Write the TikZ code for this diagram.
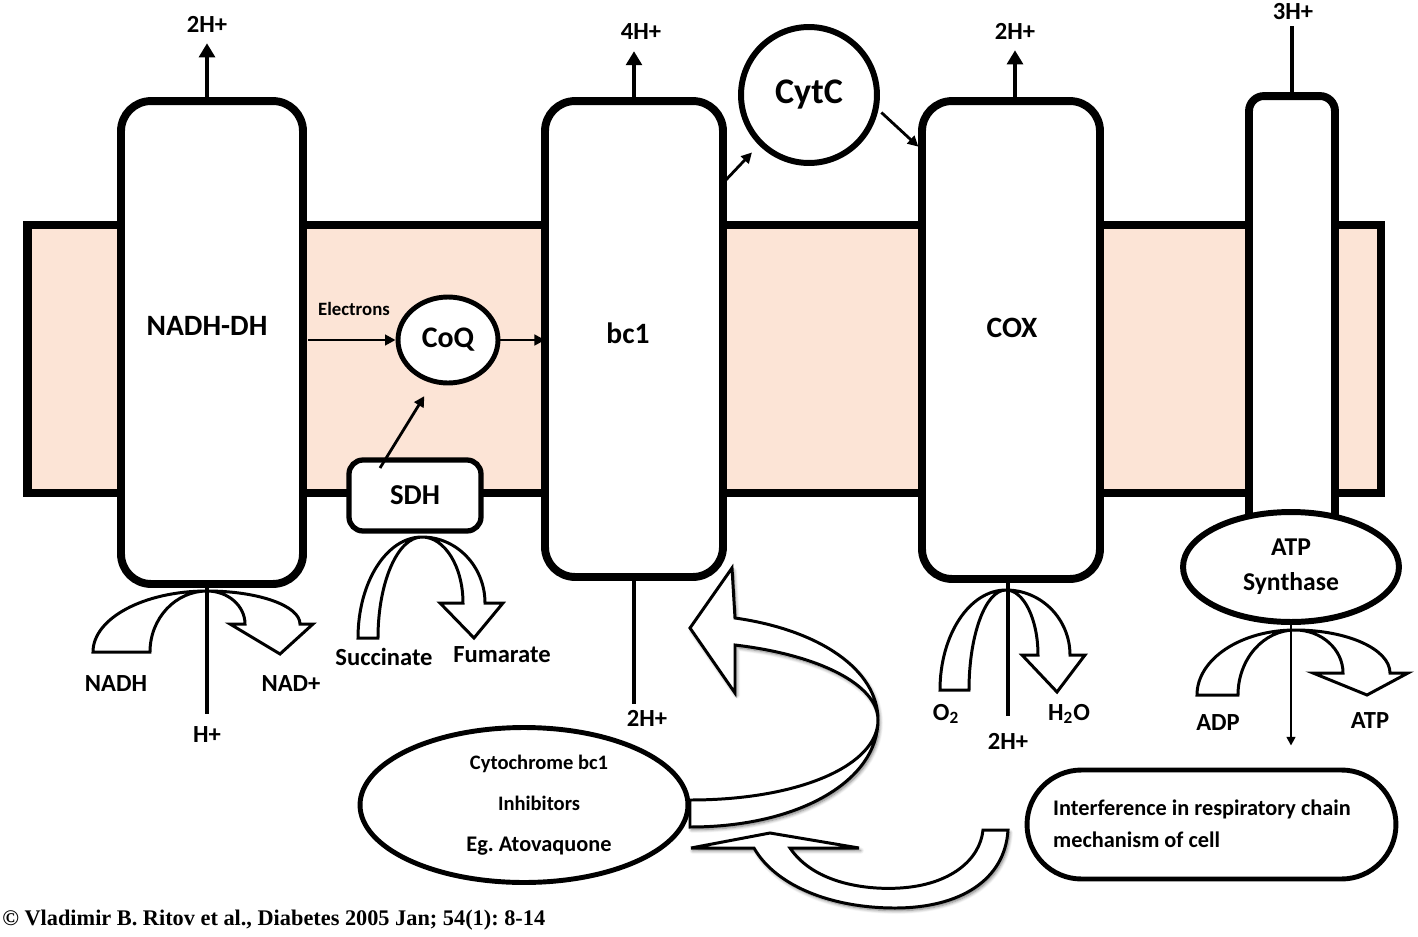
\documentclass[tikz,border=0pt]{standalone}
\usepackage{fontspec}
\setmainfont{Carlito}
\newfontfamily\citefont{Liberation Serif}
\usepackage{tikz}
\usetikzlibrary{arrows.meta,shapes.geometric,calc,shadows.blur}
\definecolor{membrane}{HTML}{FCE4D6}
\frenchspacing

\begin{document}
\begin{tikzpicture}[x=0.02cm, y=-0.02cm,
    complex/.style={draw, line width=4.5pt, fill=white, rounded corners=0.6cm, inner sep=0pt, outer sep=0pt},
    lbl/.style={font=\fontsize{14}{16}\selectfont\bfseries},
    big/.style={font=\fontsize{16.8}{20}\selectfont\bfseries},
    hline/.style={line width=2.8pt},
    hup/.style={hline, -{Triangle[width=9pt,length=8pt]}},
    earrow/.style={line width=1.6pt, -{Triangle[width=6pt,length=6pt]}},
    band/.style={line width=1.7pt, fill=white, line join=miter},
    bigarrow/.style={line width=1.7pt, fill=white, line join=miter,
        blur shadow={shadow blur steps=6, shadow xshift=1pt, shadow yshift=-1.5pt, shadow opacity=55}}]

    \useasboundingbox (0,0) rectangle (1418,937);

    % Draw membrane
    \filldraw[fill=membrane, line width=5.1pt] (27.5,225) rectangle (1381,493);

    % Draw complexes
    \node[complex, minimum width=3.64cm, minimum height=9.66cm] (nadh) at (212,342.5) {};
    \node[complex, minimum width=3.56cm, minimum height=9.52cm] (bc1) at (634,339) {};
    \node[complex, minimum width=3.56cm, minimum height=9.56cm] (cox) at (1011,340) {};
    \node[complex, rounded corners=0.3cm, minimum width=1.72cm, minimum height=8.92cm] (tube) at (1292,319) {};

    \node[big] (nadhtxt) at (207,326) {NADH-DH};
    \node[big] (bc1txt) at (628,333) {bc1};
    \node[big] (coxtxt) at (1012,328) {COX};

    % ATP synthase head
    \node[ellipse, draw, line width=3.4pt, fill=white, minimum width=4.32cm, minimum height=2.2cm,
        inner sep=0pt, align=center, font=\fontsize{14.6}{19.9}\selectfont\bfseries] (atp) at (1291,567) {ATP\\Synthase};

    % SDH, CoQ and CytC
    \node[complex, line width=3pt, rounded corners=0.28cm, minimum width=2.64cm, minimum height=1.42cm,
        font=\fontsize{16.4}{20}\selectfont\bfseries] (sdh) at (415,495.5) {SDH};
    \node[ellipse, draw, line width=2.8pt, fill=white, minimum width=2cm, minimum height=1.72cm,
        inner sep=0pt, font=\fontsize{17}{20}\selectfont\bfseries] (coq) at (448,340) {CoQ};
    \node[circle, draw, line width=3.4pt, fill=white, minimum size=2.72cm,
        inner sep=0pt, font=\fontsize{20.5}{24}\selectfont\bfseries] (cytc) at (809,95) {CytC};

    % Electron flow
    \node[font=\fontsize{10.7}{12}\selectfont\bfseries] (elec) at (354,309) {Electrons};
    \draw[earrow, shorten <=0.1cm] (nadh.east |- coq) -- (coq.west);
    \draw[earrow] (coq.east) -- (bc1.west |- coq);
    \draw[earrow, shorten >=0.3cm] ($(sdh.north)+(-35,8)$) -- (coq.250);
    \draw[earrow, shorten >=0.2cm] ($(bc1.north east)+(0,82)$) -- (cytc.225);
    \draw[earrow, shorten <=0.08cm, shorten >=0.1cm] (cytc.-12) -- ($(cox.north west)+(0,49)$);

    % Proton pumping
    \node[lbl] (nadhout) at (207,24) {2H+};
    \node[lbl] (bc1out) at (641,32) {4H+};
    \node[lbl] (coxout) at (1015,31) {2H+};
    \node[lbl] (atpout) at (1293,12) {3H+};
    \draw[hup, shorten >=0.1cm] (nadh.north -| nadhout) -- (nadhout.south);
    \draw[hup, shorten >=0.1cm] (bc1.north) -- (bc1.north |- bc1out.south);
    \draw[hup, shorten >=0.1cm] (cox.north -| coxout) -- (coxout.south);
    \draw[hline] (tube.north) -- (tube.north |- atpout.south);

    \node[lbl] (nadhin) at (207,735) {H+};
    \node[lbl] (bc1in) at (647,718) {2H+};
    \node[lbl] (coxin) at (1008,741) {2H+};
    \draw[hline, shorten >=0.14cm] (nadh.south -| nadhin) -- (nadhin.north);
    \draw[hline] (bc1.south) -- (bc1.south |- bc1in.north);
    \draw[hline, shorten >=0.22cm] (cox.south -| coxin) -- (coxin.north);

    % Substrate arrows
    \filldraw[band] (93,652) arc[start angle=180, end angle=270, x radius=114, y radius=61]
        arc[start angle=270, end angle=180, x radius=57, y radius=61] -- cycle;
    \filldraw[band] (207,591) arc[start angle=270, end angle=360, x radius=93, y radius=33]
        -- (313,624) -- (280,654) -- (230,624) -- (245,624)
        arc[start angle=0, end angle=-90, x radius=38, y radius=33] -- cycle;

    \filldraw[band] (358,638) arc[start angle=180, end angle=270, x radius=64, y radius=101]
        arc[start angle=270, end angle=180, x radius=44, y radius=101] -- cycle;
    \filldraw[band] (422,537) arc[start angle=270, end angle=360, x radius=63, y radius=66]
        -- (503,603) -- (474,638) -- (440,603) -- (463,603)
        arc[start angle=0, end angle=-90, x radius=41, y radius=66] -- cycle;

    \filldraw[band] (940,690) arc[start angle=180, end angle=270, x radius=66, y radius=100]
        arc[start angle=270, end angle=180, x radius=37, y radius=100] -- cycle;
    \filldraw[band] (1006,590) arc[start angle=270, end angle=360, x radius=64, y radius=65]
        -- (1085,655) -- (1057,692) -- (1022,655) -- (1038,655)
        arc[start angle=0, end angle=-90, x radius=32, y radius=65] -- cycle;

    \filldraw[band] (1197,695) arc[start angle=180, end angle=270, x radius=98, y radius=65]
        arc[start angle=270, end angle=180, x radius=57, y radius=65] -- cycle;
    \filldraw[band] (1295,630) arc[start angle=270, end angle=360, x radius=95, y radius=43]
        -- (1408,673) -- (1367,695) -- (1313,673) -- (1343,673)
        arc[start angle=0, end angle=-90, x radius=48, y radius=43] -- cycle;

    \node[lbl] (nadhlbl) at (116,684) {NADH};
    \node[lbl] (nadlbl) at (291,684) {NAD+};
    \node[lbl] (succ) at (384,657) {Succinate};
    \node[lbl] (fum) at (502,655) {Fumarate};
    \node[lbl] (o2) at (946,714) {O\textsubscript{2}};
    \node[lbl] (h2o) at (1069,714) {H\textsubscript{2}O};
    \node[lbl] (adp) at (1218,723) {ADP};
    \node[lbl] (atplbl) at (1370,721) {ATP};

    % ATP output
    \node[draw, line width=2.8pt, rounded corners=1.09cm, minimum width=7.38cm, minimum height=2.18cm] (interf) at (1211.5,824.5) {};
    \node[anchor=west, align=left, font=\fontsize{12.7}{18.2}\selectfont\bfseries] (interftxt) at (1047,824)
        {Interference in respiratory chain\\mechanism of cell};
    \draw[line width=1.4pt, -{Triangle[width=5pt,length=5pt]}, shorten >=0.44cm] (atp.south) -- (atp.south |- interf.north);

    % Inhibitor
    \node[ellipse, draw, line width=2.8pt, fill=white, minimum width=6.56cm, minimum height=3.1cm] (inhib) at (524,805) {};
    \node[align=center, font=\fontsize{11.7}{23.3}\selectfont\bfseries] (inhibtxt) at (539,805)
        {Cytochrome bc1\\Inhibitors\\{\fontsize{12.7}{23.3}\selectfont Eg. Atovaquone}};

    % Big curved arrows
    \filldraw[bigarrow] (735,618) -- (732,568) -- (690,628) -- (735,693) -- (735,645)
        .. controls (820,655) and (878,685) .. (878,720)
        .. controls (878,765) and (800,800) .. (690,800) -- (690,827)
        .. controls (800,827) and (878,780) .. (878,720)
        .. controls (878,670) and (820,630) .. (735,618) -- cycle;

    \filldraw[bigarrow] (754,848) -- (691,848) -- (770,833) -- (859,848) -- (790,848)
        .. controls (815,885) and (870,890) .. (900,888)
        .. controls (950,885) and (980,860) .. (983,830) -- (1008,830)
        .. controls (1005,880) and (960,908) .. (895,908)
        .. controls (830,908) and (775,885) .. (754,848) -- cycle;

    % Source
    \node[anchor=west, inner sep=0pt, font=\citefont\fontsize{12.7}{15}\selectfont\bfseries] (cite) at (2,920)
        {© Vladimir B. Ritov et al., Diabetes 2005 Jan; 54(1): 8-14};

\end{tikzpicture}
\end{document}
